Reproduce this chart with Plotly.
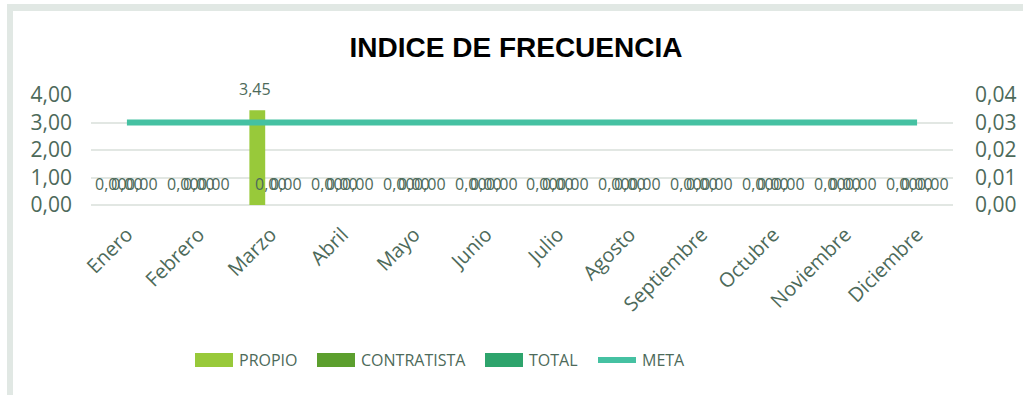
import plotly.graph_objects as go

# ---- data ----
months = ["Enero", "Febrero", "Marzo", "Abril", "Mayo", "Junio", "Julio",
          "Agosto", "Septiembre", "Octubre", "Noviembre", "Diciembre"]
propio = [0, 0, 3.45, 0, 0, 0, 0, 0, 0, 0, 0, 0]
contratista = [0, 0, 0, 0, 0, 0, 0, 0, 0, 0, 0, 0]
total = [0, 0, 0, 0, 0, 0, 0, 0, 0, 0, 0, 0]
meta = [3, 3, 3, 3, 3, 3, 3, 3, 3, 3, 3, 3]
left_ticks = [0, 1, 2, 3, 4]
right_ticks = [0, 0.01, 0.02, 0.03, 0.04]

# ---- style ----
W, H = 1023, 395
ML, MR, MT, MB = 91, 70, 95, 190
PW, PH = W - ML - MR, H - MT - MB
TXT = "#4d6a5a"
GRID = "#e2e7e3"
FONT = "Open Sans"
C_PROPIO = "#98c93a"
C_CONTR = "#5c9f2e"
C_TOTAL = "#2ea46c"
C_META = "#45c1a2"


def px_x(px):
    return (px - ML) / PW


def px_y(py):
    return (H - MB - py) / PH


idx = list(range(len(months)))
bar_w = 0.22
step = 0.215
series = [("PROPIO", propio, C_PROPIO, -step),
          ("CONTRATISTA", contratista, C_CONTR, 0.0),
          ("TOTAL", total, C_TOTAL, step)]

fig = go.Figure()
annotations = []
for name, vals, col, off in series:
    bar_off = off + (0.03 if name == "PROPIO" else 0.0)
    fig.add_trace(go.Bar(
        x=idx, y=vals, name=name, width=bar_w, offset=bar_off - bar_w / 2,
        marker=dict(color=col, line=dict(width=0)), showlegend=False,
        hoverinfo="skip"))
    for i, v in zip(idx, vals):
        annotations.append(dict(
            x=i + off, y=v, xref="x", yref="y", text=f"{v:.2f}".replace(".", ","),
            showarrow=False, yshift=21, yanchor="middle", xanchor="center",
            font=dict(family=FONT, size=16, color=TXT)))

fig.add_trace(go.Scatter(
    x=idx, y=meta, name="META", mode="lines",
    line=dict(color=C_META, width=6), showlegend=False, hoverinfo="skip"))

# invisible trace carrying the secondary axis
fig.add_trace(go.Scatter(x=idx, y=[0] * len(idx), yaxis="y2", mode="lines",
                         line=dict(width=0), showlegend=False, hoverinfo="skip"))

shapes = []
# chart frame (top and left bands)
shapes.append(dict(type="rect", xref="paper", yref="paper",
                   x0=px_x(7), x1=px_x(1030), y0=px_y(11), y1=px_y(4),
                   fillcolor="#e1e8e4", line=dict(width=0), layer="below"))
shapes.append(dict(type="rect", xref="paper", yref="paper",
                   x0=px_x(7), x1=px_x(13), y0=px_y(400), y1=px_y(4),
                   fillcolor="#e1e8e4", line=dict(width=0), layer="below"))

# legend
leg_y = 360
leg_items = [("PROPIO", C_PROPIO, 195, "bar"),
             ("CONTRATISTA", C_CONTR, 317, "bar"),
             ("TOTAL", C_TOTAL, 485, "bar"),
             ("META", C_META, 596, "line")]
for name, col, x0, kind in leg_items:
    if kind == "bar":
        shapes.append(dict(type="rect", xref="paper", yref="paper",
                           x0=px_x(x0), x1=px_x(x0 + 38),
                           y0=px_y(leg_y + 7), y1=px_y(leg_y - 7),
                           fillcolor=col, line=dict(width=0)))
        tx = x0 + 42
    else:
        shapes.append(dict(type="line", xref="paper", yref="paper",
                           x0=px_x(x0 + 2), x1=px_x(x0 + 40),
                           y0=px_y(leg_y), y1=px_y(leg_y),
                           line=dict(color=col, width=6)))
        tx = x0 + 44
    annotations.append(dict(
        x=px_x(tx), y=px_y(leg_y), xref="paper", yref="paper", text=name,
        showarrow=False, xanchor="left", yanchor="middle",
        font=dict(family=FONT, size=16, color=TXT)))

fig.update_layout(
    width=W, height=H,
    margin=dict(l=ML, r=MR, t=MT, b=MB, pad=0, autoexpand=False),
    paper_bgcolor="white", plot_bgcolor="white",
    separators=",.",
    title=dict(text="<b>INDICE DE FRECUENCIA</b>", xref="container",
               x=516 / W, xanchor="center", yref="container",
               y=1 - 47 / H, yanchor="middle",
               font=dict(family="Liberation Sans", size=28, color="#000000")),
    xaxis=dict(range=[-0.5, len(months) - 0.5], tickvals=idx, ticktext=months,
               tickangle=-45, showgrid=False, zeroline=False, showline=False,
               ticks="", ticklabelstandoff=13, automargin=False,
               tickfont=dict(family=FONT, size=20, color=TXT)),
    yaxis=dict(range=[0, 4], tickvals=left_ticks, tickformat=".2f",
               showgrid=True, gridcolor=GRID, gridwidth=2, zeroline=True,
               zerolinecolor=GRID, zerolinewidth=2, showline=False, ticks="",
               ticklabelstandoff=18, automargin=False,
               tickfont=dict(family=FONT, size=21, color=TXT)),
    yaxis2=dict(range=[0, 0.04], tickvals=right_ticks, tickformat=".2f",
                overlaying="y", side="right", showgrid=False, zeroline=False,
                showline=False, ticks="", ticklabelstandoff=21,
                automargin=False,
                tickfont=dict(family=FONT, size=21, color=TXT)),
    shapes=shapes,
    annotations=annotations,
    showlegend=False,
)

fig.write_html("out.html")
